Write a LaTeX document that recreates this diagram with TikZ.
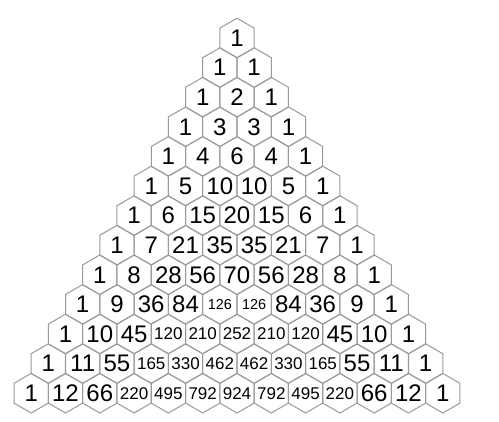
\documentclass[tikz,border=0pt]{standalone}
\usepackage{fontspec}
\setmainfont{Liberation Sans}
\usetikzlibrary{shapes.geometric}
\tikzstyle{hexcell} = [regular polygon, regular polygon sides=6, shape border rotate=30, minimum size=19.8pt, inner sep=0pt, outer sep=0pt, draw=black!40, line width=0.5pt]
\tikzset{cellnum/.style={font=\fontsize{12}{12}\selectfont, inner sep=0pt}}
\newcommand{\cellnum}[1]{\ifnum#1=126 \fontsize{7.2}{7.2}\selectfont\else\ifnum#1>99 \fontsize{8.5}{8.5}\selectfont\fi\fi #1}

\begin{document}
\begin{tikzpicture}[x=0.5pt,y=-0.5pt]
\useasboundingbox (0,0) rectangle (499,422);
% Rows
\foreach \n/\row in {0/{1}, 1/{1,1}, 2/{1,2,1}, 3/{1,3,3,1}, 4/{1,4,6,4,1},
  5/{1,5,10,10,5,1}, 6/{1,6,15,20,15,6,1}, 7/{1,7,21,35,35,21,7,1},
  8/{1,8,28,56,70,56,28,8,1}, 9/{1,9,36,84,126,126,84,36,9,1},
  10/{1,10,45,120,210,252,210,120,45,10,1},
  11/{1,11,55,165,330,462,462,330,165,55,11,1},
  12/{1,12,66,220,495,792,924,792,495,220,66,12,1}}{
  \foreach \v [count=\k from 0] in \row {
    \node (c\n-\k) [hexcell, label={[cellnum]center:\cellnum{\v}}] at ({237+(\k-\n/2)*34.3},{38+\n*29.6}) {};
  }
}
\end{tikzpicture}
\end{document}
